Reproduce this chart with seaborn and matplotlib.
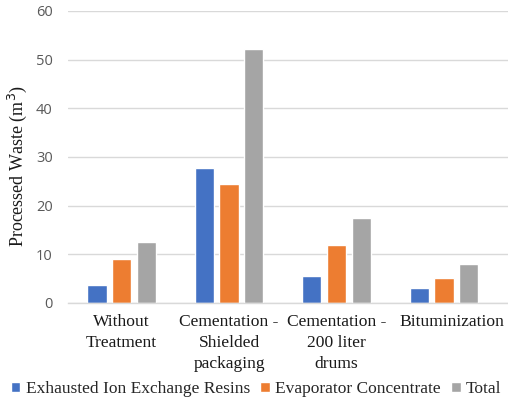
import matplotlib
matplotlib.use("Agg")
import matplotlib.pyplot as plt
import matplotlib.transforms as mtransforms
import seaborn as sns
import pandas as pd

categories = ["Without\nTreatment", "Cementation -\nShielded\npackaging",
              "Cementation -\n200 liter\ndrums", "Bituminization"]
series_names = ["Exhausted Ion Exchange Resins", "Evaporator Concentrate", "Total"]
resins = [3.6, 27.7, 5.5, 3.0]
evaporator = [9.1, 24.5, 12.0, 5.1]
total = [12.5, 52.2, 17.5, 8.0]
y_ticks = [0, 10, 20, 30, 40, 50, 60]

rows = []
for name, vals in zip(series_names, [resins, evaporator, total]):
    for cat, v in zip(categories, vals):
        rows.append({"category": cat, "series": name, "value": v})
df = pd.DataFrame(rows)

sns.set_theme(style="white")
palette = {"Exhausted Ion Exchange Resins": "#4472C4",
           "Evaporator Concentrate": "#ED7D31",
           "Total": "#A5A5A5"}

fig = plt.figure(figsize=(5.08, 4.01), dpi=100)
ax = fig.add_axes([68 / 508, 1 - 303 / 401, 440 / 508, 292 / 401])

sns.barplot(data=df, x="category", y="value", hue="series", order=categories,
            hue_order=series_names, palette=palette, width=0.69, gap=0.22,
            saturation=1, ax=ax, legend=True)

ax.set_ylim(0, 60)
ax.set_xlim(-0.5, 3.597)
ax.set_yticks(y_ticks)
ax.yaxis.grid(True, color="#d9d9d9", linewidth=1)
ax.set_axisbelow(True)
for s in ["top", "right", "left"]:
    ax.spines[s].set_visible(False)
ax.spines["bottom"].set_color("#d9d9d9")
ax.spines["bottom"].set_linewidth(1)
ax.tick_params(axis="y", length=0, pad=11, labelsize=10.5, labelcolor="#595959")
ax.tick_params(axis="x", length=0, pad=8)
for t in ax.get_yticklabels():
    t.set_fontfamily("Open Sans")
ax.set_xticks(range(len(categories)))
ax.set_xticklabels(categories, fontfamily="Liberation Serif", fontsize=12.6,
                   color="#1a1a1a", linespacing=1.4, va="top")
# the last category label sits a little to the right of its group
last = ax.get_xticklabels()[-1]
last.set_transform(last.get_transform() +
                   mtransforms.ScaledTranslation(8 / 100, 0, fig.dpi_scale_trans))
ax.set_xlabel("")
ax.set_ylabel("Processed Waste (m$^3$)", fontfamily="Liberation Serif",
              fontsize=13, color="#1a1a1a")
ax.yaxis.set_label_coords(-0.0886, 0.47)

ax.get_legend().remove()
handles, labels = ax.get_legend_handles_labels()
fig.legend(handles, labels, loc="center", bbox_to_anchor=(256 / 508, 1 - 389 / 401),
           ncol=3, frameon=False, handlelength=0.55, handleheight=0.55,
           handletextpad=0.3, columnspacing=0.6,
           prop={"family": "Liberation Serif", "size": 12.5})

fig.savefig("out.png", dpi=100)
